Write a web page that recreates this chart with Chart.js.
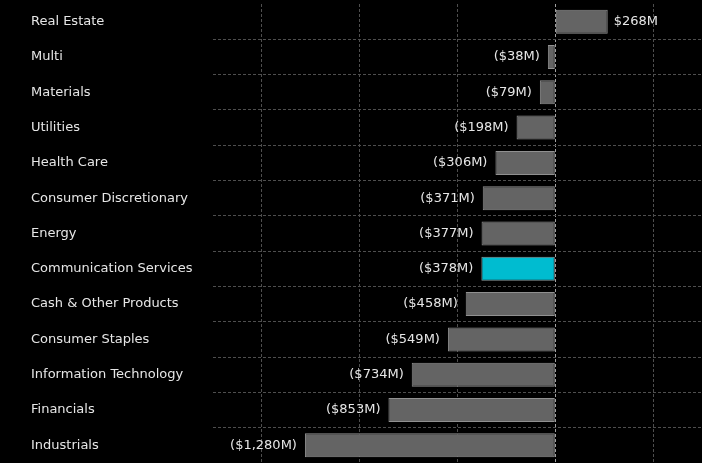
<!DOCTYPE html>
<html>
<head>
<meta charset="utf-8">
<script src="https://cdn.jsdelivr.net/npm/chart.js@4.4.1/dist/chart.umd.min.js"></script>
<style>
  html, body { margin: 0; padding: 0; background: #000; }
  #wrap { width: 702px; height: 463px; }
</style>
</head>
<body>
<div id="wrap"><canvas id="flows_chart"></canvas></div>
<script>
var sectors = [
    'Real Estate', 'Multi', 'Materials', 'Utilities', 'Health Care',
    'Consumer Discretionary', 'Energy', 'Communication Services',
    'Cash & Other Products', 'Consumer Staples', 'Information Technology',
    'Financials', 'Industrials'
];
var flows = [268, -38, -79, -198, -306, -371, -377, -378, -458, -549, -734, -853, -1280];
var highlight = 'Communication Services';
var xTicks = [-1500, -1000, -500, 0, 500];

function fmtMoney(v) {
    var s = '$' + Math.abs(v).toLocaleString('en-US') + 'M';
    return v < 0 ? '(' + s + ')' : s;
}

var fillColors = sectors.map(function (s) { return s === highlight ? '#00bcd0' : '#646464'; });
var edgeColors = sectors.map(function (s) { return s === highlight ? '#8a9a9c' : '#909090'; });

// value labels next to each bar
var valueLabels = {
    id: 'valueLabels',
    afterDatasetsDraw: function (chart) {
        var ctx = chart.ctx;
        var meta = chart.getDatasetMeta(0);
        ctx.save();
        ctx.font = '13px "DejaVu Sans"';
        ctx.fillStyle = '#e6e6e6';
        ctx.textBaseline = 'middle';
        meta.data.forEach(function (bar, i) {
            var v = flows[i];
            if (v < 0) {
                ctx.textAlign = 'right';
                ctx.fillText(fmtMoney(v), bar.x - 8, bar.y);
            } else {
                ctx.textAlign = 'left';
                ctx.fillText(fmtMoney(v), bar.x + 6, bar.y);
            }
        });
        ctx.restore();
    }
};

function noPad(axis) {
    axis.paddingTop = 0;
    axis.paddingBottom = 0;
    axis.paddingLeft = 0;
    axis.paddingRight = 0;
}

var ctx = document.getElementById('flows_chart').getContext('2d');
var flowsChart = new Chart(ctx, {
    type: 'bar',
    data: {
        labels: sectors,
        datasets: [{
            data: flows,
            backgroundColor: fillColors,
            borderColor: edgeColors,
            borderWidth: 1,
            borderSkipped: false,
            barPercentage: 0.68,
            categoryPercentage: 1
        }]
    },
    options: {
        indexAxis: 'y',
        responsive: true,
        maintainAspectRatio: false,
        animation: false,
        layout: { padding: { left: 31, top: 4, right: 0, bottom: 0 } },
        plugins: {
            legend: { display: false },
            tooltip: { enabled: false }
        },
        scales: {
            x: {
                min: -1750,
                max: 750,
                display: true,
                afterBuildTicks: function (axis) {
                    axis.ticks = xTicks.map(function (v) { return { value: v }; });
                },
                ticks: { display: false },
                border: { display: false, dash: [3, 2] },
                grid: {
                    drawTicks: false,
                    color: function (c) {
                        return c.tick && c.tick.value === 0 ? '#a0a0a0' : '#4e4e4e';
                    },
                    lineWidth: 1
                },
                afterFit: function (axis) { axis.height = 0; noPad(axis); }
            },
            y: {
                border: { display: false, dash: [3, 2] },
                grid: {
                    drawTicks: false,
                    color: function (c) {
                        return c.index === 0 ? 'rgba(0,0,0,0)' : '#4e4e4e';
                    },
                    lineWidth: 1
                },
                ticks: {
                    crossAlign: 'far',
                    color: '#e6e6e6',
                    font: { family: 'DejaVu Sans', size: 13 },
                    padding: 0
                },
                afterFit: function (axis) { axis.width = 182; noPad(axis); }
            }
        }
    },
    plugins: [valueLabels]
});
</script>
</body>
</html>
